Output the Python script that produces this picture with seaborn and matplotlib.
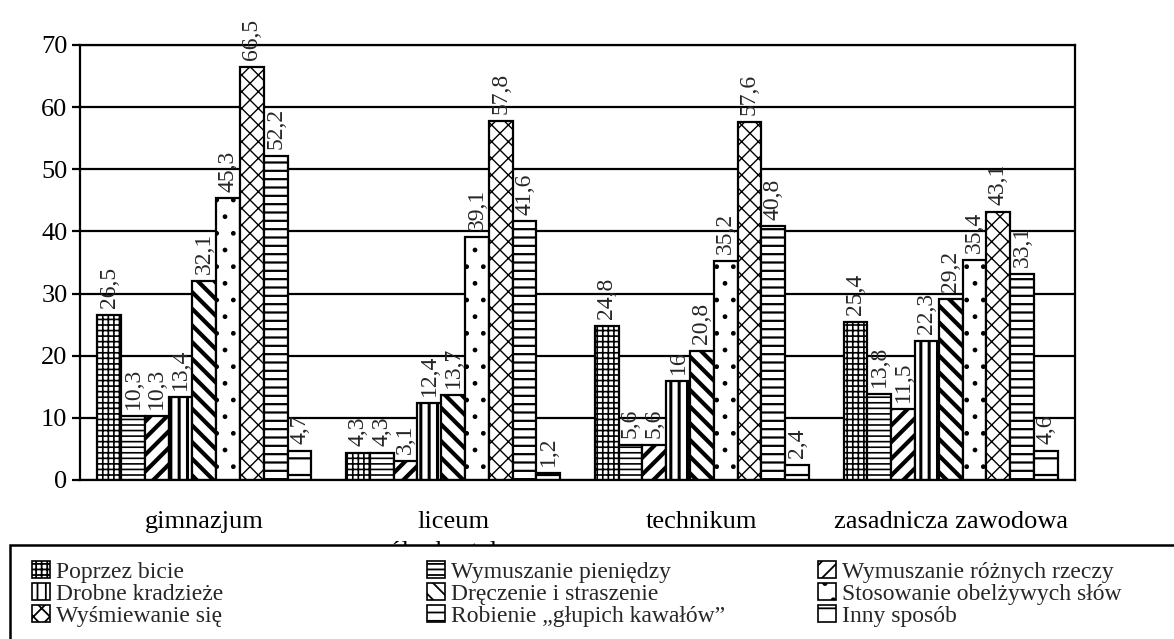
import numpy as np
import pandas as pd
import matplotlib
matplotlib.use("Agg")
import matplotlib.pyplot as plt
from matplotlib.patches import Patch, Rectangle
import seaborn as sns

# dane (procenty)
szkoly = ["gimnazjum", "liceum\nogólnokształcące", "technikum", "zasadnicza zawodowa"]
sposoby = [
    "Poprzez bicie",
    "Wymuszanie pieniędzy",
    "Wymuszanie różnych rzeczy",
    "Drobne kradzieże",
    "Dręczenie i straszenie",
    "Stosowanie obelżywych słów",
    "Wyśmiewanie się",
    "Robienie „głupich kawałów”",
    "Inny sposób",
]
poprzez_bicie = [26.5, 4.3, 24.8, 25.4]
wymuszanie_pieniedzy = [10.3, 4.3, 5.6, 13.8]
wymuszanie_rzeczy = [10.3, 3.1, 5.6, 11.5]
drobne_kradzieze = [13.4, 12.4, 16, 22.3]
dreczenie = [32.1, 13.7, 20.8, 29.2]
obelzywe_slowa = [45.3, 39.1, 35.2, 35.4]
wysmiewanie = [66.5, 57.8, 57.6, 43.1]
glupie_kawaly = [52.2, 41.6, 40.8, 33.1]
inny_sposob = [4.7, 1.2, 2.4, 4.6]
y_ticks = [0, 10, 20, 30, 40, 50, 60, 70]

wartosci = [poprzez_bicie, wymuszanie_pieniedzy, wymuszanie_rzeczy, drobne_kradzieze,
            dreczenie, obelzywe_slowa, wysmiewanie, glupie_kawaly, inny_sposob]

# wzory kreskowania dla kolejnych serii (czarno-biały wykres)
wzory = ["+++", "---", "//", "||", "\\\\", ".", "xx", "--", "-"]
grubosci = [1.2, 1.2, 3.0, 2.2, 3.0, 1.0, 1.0, 1.6, 1.6]
kolory_wzoru = ["black"] * 6 + ["#555555"] + ["black"] * 2

rows = []
for sposob, vals in zip(sposoby, wartosci):
    for szkola, v in zip(szkoly, vals):
        rows.append({"szkola": szkola, "sposob": sposob, "procent": v})
df = pd.DataFrame(rows)

sns.set_style("white")
plt.rcParams["font.family"] = ["Liberation Serif", "DejaVu Serif"]
plt.rcParams["hatch.linewidth"] = 1.3


def ustaw_wzor(p, i):
    p.set_hatch(wzory[i])
    if hasattr(p, "set_hatch_linewidth"):
        p.set_hatch_linewidth(grubosci[i])
    if hasattr(p, "set_hatchcolor"):
        p.set_hatchcolor(kolory_wzoru[i])


fig = plt.figure(figsize=(11.74, 6.39), dpi=100)
ax = fig.add_axes([80 / 1174, 1 - 480 / 639, 995 / 1174, 435 / 639])

sns.barplot(data=df, x="szkola", y="procent", hue="sposob", order=szkoly, hue_order=sposoby,
            palette=["white"] * 9, saturation=1, edgecolor="black", linewidth=1.6,
            width=0.861, gap=0, errorbar=None, legend=False, ax=ax)

for i, (cont, vals) in enumerate(zip(ax.containers, wartosci)):
    for bar in cont:
        ustaw_wzor(bar, i)
    etykiety = [f"{v:g}".replace(".", ",") for v in vals]
    ax.bar_label(cont, labels=etykiety, rotation=90, padding=5, fontsize=17)

ax.set_xlim(-0.5, 3.5)
ax.set_ylim(0, 70)
ax.set_yticks(y_ticks)
ax.yaxis.grid(True, color="black", linewidth=1.6)
ax.set_axisbelow(True)
ax.set_xlabel("")
ax.set_ylabel("")
ax.tick_params(axis="y", left=True, length=6, width=1.6, pad=3, labelsize=19, colors="black")
ax.tick_params(axis="x", bottom=False, length=0, pad=22, labelsize=19, colors="black")
for lab in ax.get_xticklabels():
    lab.set_linespacing(1.5)
for s in ax.spines.values():
    s.set_color("black")
    s.set_linewidth(1.6)

# ramka legendy zachodzi na podpis osi, jak w oryginale
fig.add_artist(Rectangle((10 / 1174, -0.05), 1.2, (639 - 545) / 639 + 0.05,
                         transform=fig.transFigure, facecolor="white", edgecolor="black",
                         linewidth=1.8, zorder=4))

kolumny_x = [32, 427, 818]
for k, x0 in enumerate(kolumny_x):
    idx = [k, k + 3, k + 6]
    uchwyty = []
    for i in idx:
        h = Patch(facecolor="white", edgecolor="black", linewidth=1.2)
        ustaw_wzor(h, i)
        uchwyty.append(h)
    fig.legend(uchwyty, [sposoby[i] for i in idx], loc="upper left",
               bbox_to_anchor=(x0 / 1174, 1 - 561 / 639), frameon=False,
               borderpad=0, borderaxespad=0, handlelength=0.75, handleheight=0.75,
               handletextpad=0.25, labelspacing=0.0, fontsize=17)

fig.savefig("out.png", dpi=100, facecolor="white")
